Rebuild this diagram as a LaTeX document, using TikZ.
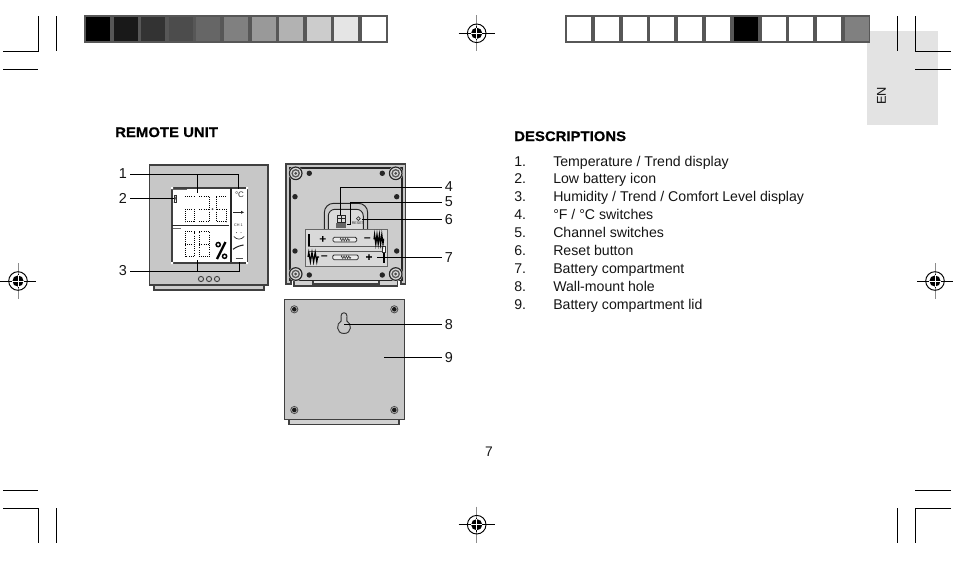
\documentclass[tikz,border=0pt]{standalone}
\usepackage{fontspec}
\setmainfont[BoldFeatures={FakeStretch=1.075,FakeBold=0.6}]{Liberation Sans}
\usetikzlibrary{decorations.pathmorphing}
\definecolor{framegray}{gray}{0.34}
\definecolor{tabgray}{gray}{0.89}
\definecolor{bodygray}{gray}{0.78}
\definecolor{backgray}{gray}{0.80}
\definecolor{inkblack}{gray}{0.08}
\tikzset{
  crop/.style={line width=0.6pt,draw=black},
  leader/.style={line width=0.75pt,draw=black},
  num/.style={font=\fontsize{10.8}{12}\selectfont,inner ysep=1pt,inner xsep=2.2pt,text=inkblack},
  body/.style={font=\fontsize{10.6}{12}\selectfont,anchor=base west,inner sep=0pt,text=inkblack},
  head/.style={font=\fontsize{10.4}{12}\selectfont\bfseries,anchor=base west,inner sep=0pt,text=black},
  case/.style={draw=black!75,line width=0.9pt,fill=bodygray},
  dig/.style={line width=0.7pt,draw=black,dash pattern=on 0.75pt off 0.85pt},
  micro/.style={font=\fontsize{2.8}{3}\selectfont,inner sep=0pt,text=black!85},
  screw/.style={fill=black!85,draw=none},
  regmark/.pic={
    \draw[line width=0.6pt,black!45] (0,-18) -- (0,18);
    \draw[line width=0.6pt,black] (-18,0) -- (18,0);
    \draw[line width=0.6pt,black] (0,-7) -- (0,7);
    \draw[line width=0.7pt,black] (0,0) circle[radius=9.3];
    \fill[black] (0,0) circle[radius=5.6];
    \draw[line width=0.5pt,white] (-5.6,0) -- (5.6,0) (0,-5.6) -- (0,5.6);
  }
}
\begin{document}
\begin{tikzpicture}[x=0.75pt,y=-0.75pt]
\useasboundingbox (0,0) rectangle (954,561);
% language tab
\fill[tabgray] (867,31) rectangle (938,125);
\node[rotate=90,font=\fontsize{9.6}{11}\selectfont,inner sep=0pt,text=inkblack] (en) at (881.5,96) {EN};
% colour bars
\fill[framegray] (84,14.7) rectangle (388,43);
\foreach \i/\g in {0/0,1/0.1,2/0.2,3/0.3,4/0.4,5/0.5,6/0.6,7/0.7,8/0.8,9/0.9,10/1}{
  \fill[black!\fpeval{100-100*\g}] ({86+27.6*\i},17) rectangle +(24,24);
}
\fill[framegray] (565,14.7) rectangle (870,43);
\foreach \i/\g in {0/1,1/1,2/1,3/1,4/1,5/1,6/0,7/1,8/1,9/1,10/0.5}{
  \fill[black!\fpeval{100-100*\g}] ({567+27.8*\i},17) rectangle +(24,24);
}
% crop marks
\draw[crop] (3,51.7) -- (38.3,51.7) -- (38.3,16);
\draw[crop] (56.7,16) -- (56.7,51);
\draw[crop] (3,69.3) -- (38,69.3);
\draw[crop] (951,51.7) -- (915.3,51.7) -- (915.3,16);
\draw[crop] (897.3,16) -- (897.3,51);
\draw[crop] (951,69.3) -- (915.3,69.3);
\draw[crop] (3,508.3) -- (38.3,508.3) -- (38.3,543);
\draw[crop] (56.7,508.3) -- (56.7,543);
\draw[crop] (3,490.3) -- (38,490.3);
\draw[crop] (951,508.3) -- (915.3,508.3) -- (915.3,543);
\draw[crop] (897.3,508.3) -- (897.3,543);
\draw[crop] (951,490.3) -- (915.3,490.3);
% registration marks
\pic at (476.7,33.3) {regmark};
\pic at (476.7,524.7) {regmark};
\pic at (18,281) {regmark};
\pic at (935,281) {regmark};
% headings and list
\node[head] (remote) at (115,137) {REMOTE UNIT};
\node[head] (desc) at (514,141) {DESCRIPTIONS};
\foreach \n/\t [count=\c from 0] in {1./{Temperature / Trend display},2./{Low battery icon},3./{Humidity / Trend / Comfort Level display},4./{°F / °C switches},5./{Channel switches},6./{Reset button},7./{Battery compartment},8./{Wall-mount hole},9./{Battery compartment lid}}{
  \node[body] (li\c) at (514,{166+17.9*\c}) {\n};
  \node[body] (lt\c) at (553,{166+17.9*\c}) {\t};
}
\node[font=\fontsize{10.4}{12}\selectfont,inner sep=0pt,text=inkblack] (page) at (489,452) {7};
% ---------- front unit
\draw[case,fill=black!20] (154,284) rectangle (264,290);
\draw[case] (149.5,165) rectangle (268,285);
\foreach \x in {201,209,217}{\draw[line width=0.7pt,black!75] (\x,279) circle[radius=2.6];}
\fill[black!75] (171,187) rectangle (248,264);
\fill[white] (172.5,188.5) rectangle (246.5,262);
\fill[white] (171,187) rectangle +(2,2) (246,187) rectangle +(2,2) (171,262) rectangle +(2,2) (246,262) rectangle +(2,2);
\draw[line width=0.9pt,black!85] (172,225.7) -- (229,225.7);
\draw[line width=0.8pt,black!85] (231,188) -- (231,262);
\draw[line width=0.5pt,black!60] (173,189.8) -- (187,189.8);
\draw[line width=0.5pt,black!60] (173,228.3) -- (181,228.3);
% battery icon
\draw[line width=0.5pt,black!80] (174,195) rectangle (176.6,202.5);
\draw[line width=0.5pt,black!80] (174,202.5) -- (176.6,195);
% digits
\draw[dig] (185,196) -- (194,196) (185,209) -- (194,209) -- (194,221.7) -- (185,221.7) -- (185,209);
\draw[dig] (199.3,196) -- (209.3,196) -- (209.3,221.7) -- (199.3,221.7) (199.3,209) -- (209.3,209);
\draw[dig] (226,196) -- (216,196) -- (216,221.7) -- (226,221.7) -- (226,209) -- (216,209);
\fill[black!70] (212.5,209) circle[radius=1];
\draw[dig] (185,231.7) -- (194,231.7) -- (194,256.7) -- (185,256.7) -- cycle (185,244.3) -- (194,244.3);
\draw[dig] (199.3,231.7) -- (209.3,231.7) -- (209.3,256.7) -- (199.3,256.7) -- cycle (199.3,244.3) -- (209.3,244.3);
\draw[line width=1.7pt,black] (217,259) -- (225.5,242);
\draw[line width=1.1pt,black] (218.2,244.6) circle[radius=2.1];
\draw[line width=1.1pt,black] (224.6,256.3) circle[radius=2.1];
% right column
\node[inner sep=0pt,font=\fontsize{6}{7}\selectfont,text=black!80] (degc) at (239.5,195) {°C};
\draw[line width=0.7pt,black!85] (233,212.3) -- (242,212.3);
\fill[black!85] (244,212.3) -- (241,210.8) -- (241,213.8) -- cycle;
\node[micro] (ch) at (238.5,225.7) {CH 1};
\fill[black!70] (236.5,232.5) circle[radius=0.5] (241,232.5) circle[radius=0.5];
\draw[line width=0.5pt,black!80] (233.8,236.5) .. controls (237,240) and (241,240) .. (244.2,236.5);
\draw[line width=0.8pt,black!85] (233,249.3) .. controls (236,247) and (240,245.5) .. (243.5,245);
\draw[line width=0.7pt,black!70] (235.5,258.6) -- (243,258.6);
% ---------- back unit
\draw[case,fill=black!18] (294,278) rectangle (397.7,286);
\draw[case,fill=black!10] (313,279.5) rectangle (379,284);
\draw[case,fill=bodygray,line width=0.8pt] (286,164) -- (405.7,164) -- (405.7,284) -- (401,284) -- (401,280) -- (291,280) -- (291,284) -- (286,284) -- cycle;
\draw[line width=1.2pt,black!85,fill=backgray] (290,168) rectangle (401.7,280.5);
\foreach \x/\y in {295.7/173.3,395.7/173.3,295.7/274,395.7/274}{
  \fill[black!15] (\x,\y) circle[radius=7.3];
  \draw[line width=0.9pt,black!85] (\x,\y) circle[radius=6.3];
  \draw[line width=1pt,black!65] (\x,\y) circle[radius=3.6];
  \fill[black!70] (\x,\y) circle[radius=1.5];
}
\foreach \x/\y in {309.3/173.3,382.3/173.3,295/196.7,396.7/196.7,295/251,396.7/251,309.3/275,382.3/275}{
  \fill[screw] (\x,\y) circle[radius=2.7];
}
% alcove
\draw[line width=0.7pt,black!85,rounded corners=7pt,fill=backgray] (324.3,231) -- (324.3,203.3) -- (367.7,203.3) -- (367.7,231);
\draw[line width=0.7pt,black!85,rounded corners=5pt,fill=black!14] (328.3,231) -- (328.3,209.3) -- (363.3,209.3) -- (363.3,231);
% switches
\draw[line width=0.6pt,black!85] (337,215) rectangle (345,222);
\draw[line width=0.5pt,black!85] (341,215) -- (341,222) (337,218.5) -- (345,218.5);
\fill[black!60] (336,223) rectangle (346,228);
\draw[line width=0.5pt,black!80] (358.3,218.6) circle[radius=1.9];
\node[micro] (resettext) at (358,223.2) {RESET};
% battery compartment
\draw[line width=0.7pt,black!60,fill=black!15] (305.7,229.3) rectangle (387.3,266);
\draw[line width=0.6pt,black!65] (308,246) -- (385,246) (308,251) -- (385,251);
\draw[line width=1.2pt,black] (309,234) -- (309,246);
\draw[line width=1.2pt,black] (384,252) -- (384,263);
\draw[line width=0.5pt,black!80,fill=white] (382.5,246) rectangle (385,252);
\node[inner sep=0pt,font=\fontsize{8}{9}\selectfont\bfseries] (p1) at (322.7,239.3) {+};
\node[inner sep=0pt,font=\fontsize{8}{9}\selectfont\bfseries] (m1) at (367.3,239) {–};
\node[inner sep=0pt,font=\fontsize{8}{9}\selectfont\bfseries] (m2) at (324.3,257) {–};
\node[inner sep=0pt,font=\fontsize{8}{9}\selectfont\bfseries] (p2) at (369,257.5) {+};
\draw[line width=0.6pt,black!85,fill=black!8,rounded corners=1pt] (333,237.3) rectangle (356.7,242);
\draw[line width=0.6pt,black!85,fill=black!8,rounded corners=1pt] (332.7,255) rectangle (358.3,259.7);
\draw[line width=0.4pt,black!80,decorate,decoration={zigzag,segment length=1.8pt,amplitude=1.1pt}] (340,239.6) -- (350,239.6);
\draw[line width=0.4pt,black!80,decorate,decoration={zigzag,segment length=1.8pt,amplitude=1.1pt}] (341,257.3) -- (351,257.3);
\draw[line width=0.9pt,black,decorate,decoration={zigzag,segment length=1.8pt,amplitude=3.6pt}] (374,239.3) -- (384,239.3);
\draw[line width=0.9pt,black,decorate,decoration={zigzag,segment length=2.4pt,amplitude=3.6pt}] (308,257) -- (319,257);
% ---------- lid
\draw[case,fill=black!18] (289,418) rectangle (399,424.3);
\draw[case] (284.3,299.3) rectangle (404.3,419.3);
\foreach \x/\y in {294.3/309.3,394.3/309.3,294.3/410,394.3/410}{
  \draw[line width=0.6pt,black!70] (\x,\y) circle[radius=3.6];
  \fill[black!90] (\x,\y) circle[radius=2.3];
}
\draw[line width=0.7pt,black!80] (341.2,320.9) -- (341,316) .. controls (341,311.7) and (347,311.7) .. (347,316) -- (346.8,320.9) .. controls (352,323.5) and (352,333.5) .. (344,333.5) .. controls (336,333.5) and (336,323.5) .. (341.2,320.9) -- cycle;
% ---------- callouts
\node[num] (n1) at (123,174) {1};
\node[num] (n2) at (123,198.5) {2};
\node[num] (n3) at (123,271) {3};
\node[num] (n4) at (449,187) {4};
\node[num] (n5) at (449,202) {5};
\node[num] (n6) at (449,219.5) {6};
\node[num] (n7) at (449,257.5) {7};
\node[num] (n8) at (449,324.3) {8};
\node[num] (n9) at (449,357.5) {9};
\coordinate (e1a) at (197,193);
\coordinate (e1b) at (238,189);
\coordinate (e2) at (174,198);
\coordinate (e3a) at (197,260);
\coordinate (e3b) at (239,262);
\coordinate (e4) at (340.3,215);
\coordinate (e5) at (346.7,224);
\coordinate (e6) at (362.3,219);
\coordinate (e7) at (376.7,257);
\coordinate (e8) at (344,324);
\coordinate (e9) at (384,357);
\draw[leader] (n1.east) -- (e1b |- n1.east) -- (e1b);
\draw[leader] (e1a |- n1.east) -- (e1a);
\draw[leader] (n2.east) -- (e2 |- n2.east);
\draw[leader] (n3.east) -- (e3b |- n3.east) -- (e3b);
\draw[leader] (e3a |- n3.east) -- (e3a);
\draw[leader] (n4.west) -- (e4 |- n4.west) -- (e4);
\draw[leader] (n5.west) -- (350,0 |- n5.west) -- (350,224) -- (e5);
\draw[leader] (n6.west) -- (e6 |- n6.west);
\draw[leader] (n7.west) -- (e7 |- n7.west);
\draw[leader] (n8.west) -- (e8 |- n8.west);
\draw[leader] (n9.west) -- (e9 |- n9.west);
\end{tikzpicture}
\end{document}
